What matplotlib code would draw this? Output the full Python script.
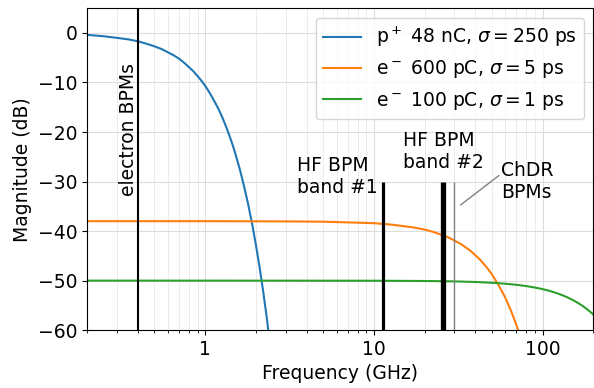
import numpy as np
import matplotlib
matplotlib.use("Agg")
import matplotlib.pyplot as plt

# frequencies (GHz) and magnitudes (dB)
f_p = [0.2, 0.25, 0.3, 0.35, 0.4, 0.45, 0.5, 0.55, 0.6, 0.65, 0.7, 0.75, 0.8,
       0.85, 0.9, 0.95, 1.0, 1.05, 1.1, 1.15, 1.2, 1.25, 1.3, 1.35, 1.4, 1.45,
       1.5, 1.6, 1.7, 1.8, 1.9, 2.0, 2.1, 2.2, 2.3, 2.4]
m_p = [-0.4, -0.67, -1.0, -1.3, -1.7, -2.2, -2.7, -3.24, -3.9, -4.52, -5.2,
       -6.02, -6.9, -7.73, -8.7, -9.66, -10.7, -11.8, -13.0, -14.2, -15.4,
       -16.7, -18.1, -19.5, -21.0, -22.5, -24.1, -27.4, -31.0, -34.7, -38.7,
       -42.9, -47.3, -51.9, -56.7, -61.7]

f_e1 = [0.2, 1, 3, 5, 8, 10, 12.5, 15, 17.5, 20, 22.5, 25, 27.5, 30, 32.5, 35,
        37.5, 40, 42.5, 45, 47.5, 50, 55, 60, 65, 70, 75]
m_e1 = [-38.0, -38.0, -38.04, -38.1, -38.3, -38.4, -38.67, -39.0, -39.31,
        -39.7, -40.17, -40.7, -41.24, -41.9, -42.53, -43.3, -44.03, -44.9,
        -45.74, -46.7, -47.67, -48.7, -51.0, -53.4, -56.1, -59.0, -62.1]

f_e2 = [0.2, 1, 10, 20, 30, 40, 50, 60, 70, 80, 90, 100, 110, 120, 130, 140,
        150, 160, 170, 180, 190, 200]
m_e2 = [-50.0, -50.0, -50.02, -50.07, -50.15, -50.27, -50.43, -50.62, -50.84,
        -51.1, -51.39, -51.71, -52.07, -52.47, -52.9, -53.36, -53.86, -54.39,
        -54.95, -55.55, -56.19, -56.86]

labels = [r"p$^+$ 48 nC, $\sigma = 250$ ps",
          r"e$^-$ 600 pC, $\sigma = 5$ ps",
          r"e$^-$ 100 pC, $\sigma = 1$ ps"]

# pickup bands (GHz)
f_electron = 0.4
f_hf1 = 11.3
f_hf2 = 25.8
f_chdr = 30

plt.rcParams["font.size"] = 13.5

fig, ax = plt.subplots(figsize=(5.94, 3.88), dpi=100)
fig.subplots_adjust(left=0.147, right=0.999, top=0.979, bottom=0.149)

ax.plot(f_p, m_p, color="tab:blue", lw=1.5, label=labels[0])
ax.plot(f_e1, m_e1, color="tab:orange", lw=1.5, label=labels[1])
ax.plot(f_e2, m_e2, color="tab:green", lw=1.5, label=labels[2])

ax.axvline(f_electron, color="black", lw=1.5)
ax.vlines(f_hf1, -60, -30, color="black", lw=2.3)
ax.vlines(f_hf2, -60, -30, color="black", lw=3.8)
ax.vlines(f_chdr, -60, -30, color="gray", lw=1)

ax.text(0.35, -19.5, "electron BPMs", rotation=90, ha="center", va="center")
ax.text(3.5, -29, "HF BPM\nband #1", ha="left", va="center")
ax.text(14.8, -24, "HF BPM\nband #2", ha="left", va="center")
ax.text(57, -30, "ChDR\nBPMs", ha="left", va="center")
ax.plot([32.7, 55], [-34.7, -28.8], color="gray", lw=1)

ax.set_xscale("log")
ax.set_xlim(0.2, 200)
ax.set_ylim(-60, 5)
ax.set_xticks([1, 10, 100])
ax.set_xticklabels(["1", "10", "100"])
ax.grid(True, which="major", color="#dddddd", lw=0.8)
ax.grid(True, which="minor", color="#e8e8e8", lw=0.6)
ax.set_xlabel("Frequency (GHz)")
ax.set_ylabel("Magnitude (dB)")
ax.legend(loc="upper right")

fig.savefig("out.png", dpi=100)
